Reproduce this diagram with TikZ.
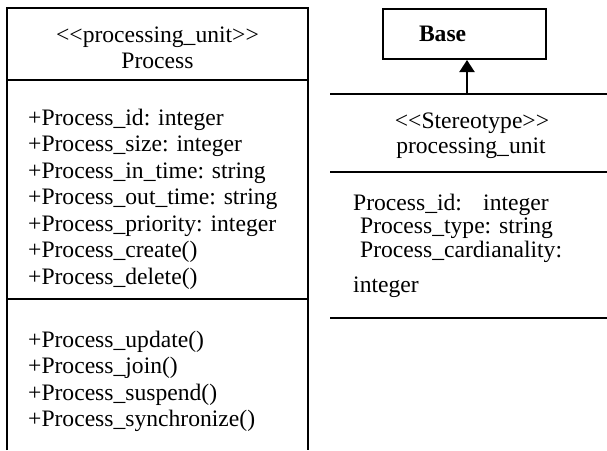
\documentclass[tikz,border=0pt]{standalone}
\usepackage{fontspec}
\setmainfont{Liberation Serif}[Ligatures=NoCommon]
\usetikzlibrary{arrows.meta}
\begin{document}
\begin{tikzpicture}[x=1pt,y=-1pt,
  rule/.style={line width=2pt},
  txt/.style={inner sep=0pt,font=\fontsize{23.6}{26}\selectfont},
  lt/.style={txt,anchor=base west},
  ct/.style={txt,anchor=base}]
\useasboundingbox (0,0) rectangle (607,450);
% left class box
\draw[rule] (7,450) -- (7,8) -- (308,8) -- (308,450);
\draw[rule] (7,80) -- (308,80);
\draw[rule] (7,299) -- (308,299);
\node[ct] (s1) at (157.5,42) {{<}{<}processing\_unit{>}{>}};
\node[ct] (n1) at (157.5,68) {Process};
\node[lt] (a1) at (28,125) {+Process\_id: integer};
\node[lt] (a2) at (28,151.5) {+Process\_size: integer};
\node[lt] (a3) at (28,178) {+Process\_in\_time: string};
\node[lt] (a4) at (28,204.5) {+Process\_out\_time: string};
\node[lt] (a5) at (28,231) {+Process\_priority: integer};
\node[lt] (a6) at (28,257.5) {+Process\_create()};
\node[lt] (a7) at (28,284) {+Process\_delete()};
\node[lt] (m1) at (28,347) {+Process\_update()};
\node[lt] (m2) at (28,373.5) {+Process\_join()};
\node[lt] (m3) at (28,400) {+Process\_suspend()};
\node[lt] (m4) at (28,426.5) {+Process\_synchronize()};
% Base box
\node[draw,rule,minimum width=163pt,minimum height=50pt,text width=163pt,
  inner xsep=0pt,align=left,font=\fontsize{23.6}{26}\selectfont]
  (base) at (464.5,34) {\hspace*{36pt}\textbf{Base}};
% stereotype box
\draw[rule] (330,94) -- (607,94);
\draw[rule] (330,172) -- (607,172);
\draw[rule] (330,318) -- (607,318);
\coordinate (top) at (467,94);
\draw[line width=2pt,-{Triangle[length=12pt,width=15pt]}] (top) -- (top |- base.south);
\node[ct] (s2) at (472,128) {{<}{<}Stereotype{>}{>}};
\node[ct] (n2) at (471,153) {processing\_unit};
\node[lt] (b1) at (353,210) {Process\_id:};
\node[lt] (b1b) at (483,210) {integer};
\node[lt] (b2) at (360,233.5) {Process\_type: string};
\node[lt] (b3) at (360,257) {Process\_cardianality:};
\node[lt] (b4) at (353,292) {integer};
\end{tikzpicture}
\end{document}
